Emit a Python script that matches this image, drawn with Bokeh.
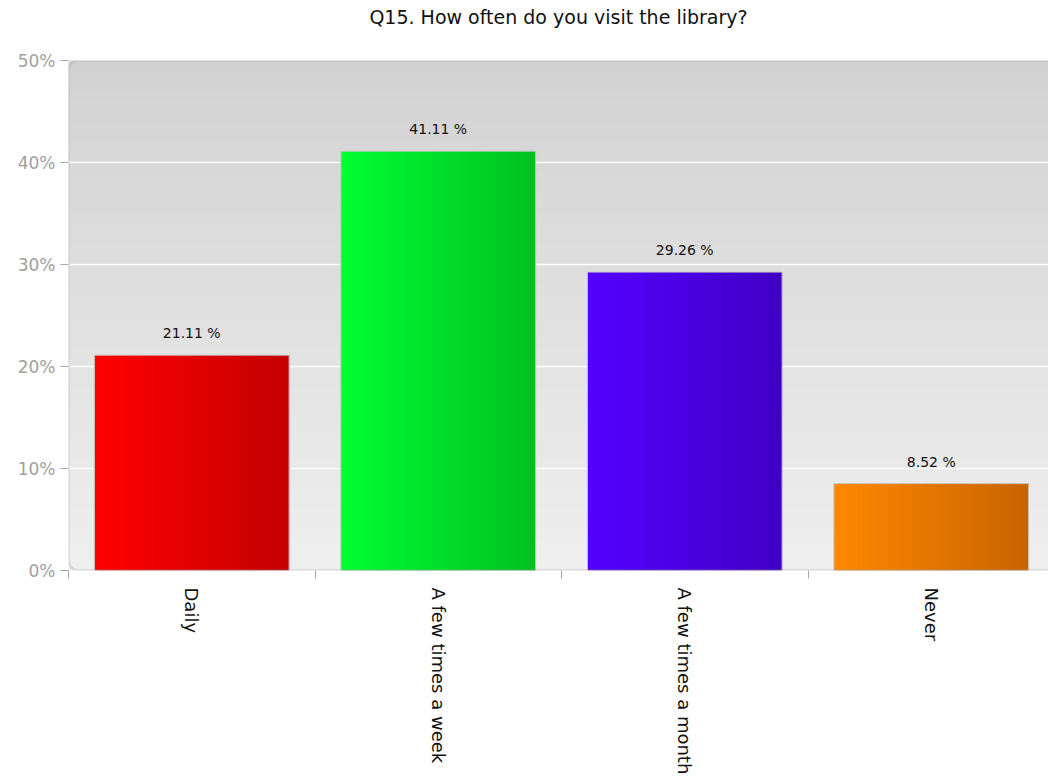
import numpy as np
from bokeh.plotting import figure
from bokeh.models import Range1d, FixedTicker, BoxAnnotation, Title
from bokeh.core.properties import value
from bokeh.embed import file_html
from bokeh.resources import INLINE

title = "Q15. How often do you visit the library?"
categories = ["Daily", "A few times a week", "A few times a month", "Never"]
percents = [21.11, 41.11, 29.26, 8.52]
bar_left_colors = ["#ff0000", "#00ff33", "#5500ff", "#ff8800"]
bar_right_colors = ["#c40000", "#00c020", "#4000c4", "#c86400"]
y_ticks = [0, 10, 20, 30, 40, 50]

FONT = "DejaVu Sans"


def hex2rgb(h):
    h = h.lstrip("#")
    return np.array([int(h[i:i + 2], 16) for i in (0, 2, 4)], dtype=float)


def mix(c1, c2, t):
    a, b = hex2rgb(c1), hex2rgb(c2)
    c = (a * (1 - t) + b * t).round().astype(int)
    return "#%02x%02x%02x" % tuple(c)


n = len(categories)
frame_w = 1048 - 68
x_end = n * frame_w / (246.5 * 4)
y_max = 50

p = figure(width=1048, height=783, output_backend="svg", toolbar_location=None,
           x_range=Range1d(0, x_end), y_range=Range1d(0, y_max),
           min_border_left=68, min_border_right=0, min_border_top=60,
           min_border_bottom=213, title=title)
p.outline_line_color = None
p.background_fill_color = "white"
p.xgrid.visible = False
p.ygrid.visible = False

p.title.align = "center"
p.title.text_font = FONT
p.title.text_font_size = "19px"
p.title.text_font_style = "normal"
p.title.text_color = "#111111"
p.title.standoff = 0

# spacer between title and plot frame
p.add_layout(Title(text=" ", text_font_size="28px", standoff=0), "above")

# background vertical gradient (overlapping stripes to hide seams)
nst = 50
edges = np.linspace(0, y_max, nst + 1)
step = edges[1] - edges[0]
bg_cols = [mix("#efefef", "#d2d2d2", (i + 0.5) / nst) for i in range(nst)]
tops = np.minimum(edges[1:] + step, y_max)
p.quad(left=0, right=x_end, bottom=edges[:-1], top=tops,
       fill_color=bg_cols, line_color=None)

# grid lines
gl = [t for t in y_ticks if 0 < t < y_max]
p.segment(x0=0, x1=x_end, y0=gl, y1=gl, line_color="white", line_width=1.5)

# bars with horizontal gradient
bw = 0.79
ns = 40
for i, (v, c1, c2) in enumerate(zip(percents, bar_left_colors, bar_right_colors)):
    l0 = i + 0.5 - bw / 2
    xs = np.linspace(l0, l0 + bw, ns + 1)
    s = xs[1] - xs[0]
    rights = np.minimum(xs[1:] + s, l0 + bw)
    cols = [mix(c1, c2, (k + 0.5) / ns) for k in range(ns)]
    p.quad(left=xs[:-1], right=rights, bottom=0, top=v,
           fill_color=cols, line_color=None)
    p.quad(left=l0, right=l0 + bw, bottom=0, top=v, fill_color=None,
           line_color="#c8c8c8", line_width=1)

# value labels
centers = [i + 0.5 for i in range(n)]
p.text(x=centers, y=percents, text=["%.2f %%" % v for v in percents],
       text_align="center", text_baseline="bottom", y_offset=-14,
       text_font=value(FONT), text_font_size="14px", text_color="#111111")

# rounded frame border
p.add_layout(BoxAnnotation(left=0, right=x_end + 0.2, bottom=0, top=y_max,
                           fill_color=None, line_color="#a0a0a0", line_width=2.5,
                           border_radius=10, level="overlay"))

# axes
ya = p.yaxis[0]
ya.ticker = FixedTicker(ticks=y_ticks)
ya.major_label_overrides = {t: "%d%%" % t for t in y_ticks}
ya.axis_line_color = None
ya.major_tick_line_color = "#a8a8a8"
ya.major_tick_out = 8
ya.major_tick_in = 0
ya.minor_tick_line_color = None
ya.major_label_text_color = "#a0a0a0"
ya.major_label_text_font = FONT
ya.major_label_text_font_size = "17px"
ya.major_label_standoff = 5

xa = p.xaxis[0]
xa.ticker = FixedTicker(ticks=centers, minor_ticks=list(range(n)))
xa.major_label_overrides = {c: lab for c, lab in zip(centers, categories)}
xa.major_label_orientation = -np.pi / 2
xa.axis_line_color = None
xa.major_tick_line_color = None
xa.minor_tick_line_color = "#a8a8a8"
xa.minor_tick_out = 8
xa.minor_tick_in = 0
xa.major_label_text_font = FONT
xa.major_label_text_font_size = "18px"
xa.major_label_text_color = "#111111"
xa.major_label_standoff = 9

open("out.html", "w").write(file_html(p, INLINE))
